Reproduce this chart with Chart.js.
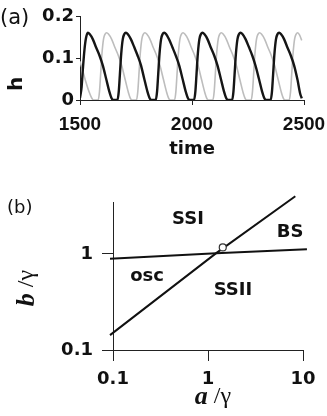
<!DOCTYPE html>
<html><head><meta charset="utf-8">
<script src="https://cdn.jsdelivr.net/npm/chart.js@4/dist/chart.umd.min.js"></script>
<style>
html,body{margin:0;padding:0;background:#fff;}
#wrap{position:relative;width:327px;height:416px;overflow:hidden;background:#fff;}
canvas{position:absolute;left:0;}
.pl{position:absolute;font:18px "DejaVu Sans";color:#111;line-height:20px;white-space:nowrap;}
</style></head><body>
<div id="wrap">
<canvas id="ca" width="327" height="165" style="top:0"></canvas>
<canvas id="cb" width="327" height="251" style="top:165px"></canvas>
<div class="pl" style="left:0px;top:6px;font-size:21px;line-height:22px">(a)</div>
<div class="pl" style="left:7px;top:197px">(b)</div>
</div>
<script>
// ---------- Panel (a): time series ----------
const blackT = [1500,1507,1513,1520,1527,1535,
 1543,1557,1572,1587,1602,1617,1631,1641,1649,1667,1673,1678,1684,1691,1698,1705,
 1713,1727,1742,1757,1772,1787,1801,1811,1819,1838,1844,1849,1855,1862,1869,1876,
 1884,1898,1913,1928,1943,1958,1972,1982,1990,2009,2015,2020,2026,2033,2040,2047,
 2055,2069,2084,2099,2114,2129,2143,2153,2161,2179,2185,2190,2196,2203,2210,2217,
 2225,2239,2254,2269,2284,2299,2313,2323,2331,2351,2357,2362,2368,2375,2382,2389,
 2397,2411,2426,2441,2456,2471,2483,2490];
const blackH = [0.005,0.03,0.075,0.12,0.148,0.16,
 0.157,0.145,0.125,0.106,0.082,0.05,0.02,0.004,0,0,0.02,0.06,0.11,0.145,0.157,0.16,
 0.157,0.145,0.126,0.106,0.083,0.05,0.02,0.004,0,0,0.02,0.06,0.11,0.145,0.157,0.16,
 0.157,0.144,0.125,0.105,0.082,0.05,0.02,0.004,0,0,0.02,0.06,0.11,0.145,0.157,0.16,
 0.157,0.145,0.125,0.106,0.082,0.05,0.02,0.004,0,0,0.02,0.06,0.11,0.145,0.157,0.16,
 0.157,0.145,0.126,0.106,0.081,0.05,0.02,0.004,0,0,0.02,0.06,0.11,0.145,0.157,0.16,
 0.157,0.145,0.125,0.106,0.082,0.048,0.015,0.004];
const grayT = [1500,1512,1525,1540,1552,1560,1581,1587,1592,1598,1605,1612,1619,
 1627,1641,1656,1671,1686,1701,1715,1725,1733,1752,1758,1763,1769,1776,1783,1790,
 1798,1812,1827,1842,1857,1872,1886,1896,1904,1922,1928,1933,1939,1946,1953,1960,
 1968,1982,1997,2012,2027,2042,2056,2066,2074,2093,2099,2104,2110,2117,2124,2131,
 2139,2153,2168,2183,2198,2213,2227,2237,2245,2264,2270,2275,2281,2288,2295,2302,
 2310,2324,2339,2354,2369,2384,2398,2408,2416,2434,2440,2445,2451,2458,2465,2472,
 2480,2490];
const grayH = [0.092,0.07,0.045,0.02,0.005,0,0,0.02,0.06,0.11,0.145,0.157,0.16,
 0.157,0.145,0.125,0.106,0.082,0.05,0.02,0.004,0,0,0.02,0.06,0.11,0.145,0.157,0.16,
 0.157,0.145,0.125,0.106,0.082,0.05,0.02,0.004,0,0,0.02,0.06,0.11,0.145,0.157,0.16,
 0.157,0.145,0.125,0.106,0.082,0.05,0.02,0.004,0,0,0.02,0.06,0.11,0.145,0.157,0.16,
 0.157,0.145,0.125,0.106,0.082,0.05,0.02,0.004,0,0,0.02,0.06,0.11,0.145,0.157,0.16,
 0.157,0.145,0.125,0.106,0.082,0.05,0.02,0.004,0,0,0.02,0.06,0.11,0.145,0.157,0.16,
 0.155,0.142];
const xTicksA = [1500, 2000, 2500];
const yTicksA = [0, 0.1, 0.2];
const xTitleA = 'time';
const yTitleA = 'h';

// ---------- Panel (b): phase diagram (log-log) ----------
const hLineA = [0.093, 1.22, 11];
const hLineB = [0.89, 1.02, 1.12];
const dLineA = [0.093, 1.22, 8.3];
const dLineB = [0.143, 1.02, 4.0];
const markA = [1.43];
const markB = [1.17];
const regionNames = ['SSI', 'BS', 'osc', 'SSII'];
const regionA = [0.616, 7.3, 0.228, 1.83];
const regionB = [2.31, 1.70, 0.59, 0.42];
const xTicksB = [0.1, 1, 10];
const yTicksB = [0.1, 1];

const toXY = (xs, ys) => xs.map((x, i) => ({x: x, y: ys[i]}));
const tickFont = {family: 'DejaVu Sans', size: 18, weight: 'bold'};
const xTickFontA = {family: 'Liberation Sans', size: 19, weight: 'bold'};
const INK = '#111';

function drawMixed(ctx, parts, cx, cy, rot) {
  ctx.save();
  ctx.translate(cx, cy);
  ctx.rotate(rot);
  ctx.textBaseline = 'middle';
  ctx.textAlign = 'left';
  let total = 0;
  const w = parts.map(p => { ctx.font = p.font; const m = ctx.measureText(p.text).width; total += m; return m; });
  let x = -total / 2;
  parts.forEach((p, i) => { ctx.font = p.font; ctx.fillStyle = INK; ctx.fillText(p.text, x, 0); x += w[i]; });
  ctx.restore();
}

const titlePluginA = {
  id: 'titleA',
  afterDraw(chart) {
    drawMixed(chart.ctx, [{text: yTitleA, font: 'bold 20px "DejaVu Sans"'}], 17, 84, -Math.PI / 2);
  }
};

new Chart(document.getElementById('ca'), {
  type: 'line',
  data: {
    datasets: [
      {data: toXY(blackT, blackH), borderColor: '#151515', borderWidth: 2.4, pointRadius: 0, cubicInterpolationMode: 'monotone', fill: false},
      {data: toXY(grayT, grayH), borderColor: '#bdbdbd', borderWidth: 1.6, pointRadius: 0, cubicInterpolationMode: 'monotone', fill: false}
    ]
  },
  options: {
    responsive: false, animation: false, devicePixelRatio: 1,
    layout: {padding: {left: 0, right: 23, top: 16, bottom: 0}},
    plugins: {legend: {display: false}, tooltip: {enabled: false}},
    scales: {
      x: {
        type: 'linear', min: 1500, max: 2500,
        afterBuildTicks: s => { s.ticks = xTicksA.map(v => ({value: v})); },
        afterFit: s => { s.height = 65; s.paddingLeft = 0; s.paddingRight = 0; },
        grid: {drawOnChartArea: false, drawTicks: true, tickLength: 5, color: '#222', lineWidth: 1},
        border: {display: true, color: '#222', width: 1},
        ticks: {font: xTickFontA, color: INK, padding: 8, maxRotation: 0, autoSkip: false, callback: v => String(v)},
        title: {display: true, text: xTitleA, font: tickFont, color: INK, padding: {top: 0, bottom: 5}}
      },
      y: {
        type: 'linear', min: 0, max: 0.2,
        afterBuildTicks: s => { s.ticks = yTicksA.map(v => ({value: v})); },
        afterFit: s => { s.width = 80; s.paddingTop = 0; s.paddingBottom = 0; },
        grid: {drawOnChartArea: false, drawTicks: true, tickLength: 4, color: '#222', lineWidth: 1},
        border: {display: true, color: '#222', width: 1},
        ticks: {font: tickFont, color: INK, padding: 2, autoSkip: false, callback: v => String(v)}
      }
    }
  },
  plugins: [titlePluginA]
});

const textPluginB = {
  id: 'textB',
  afterDraw(chart) {
    const ctx = chart.ctx, x = chart.scales.x, y = chart.scales.y;
    ctx.save();
    ctx.font = 'bold 18px "DejaVu Sans"';
    ctx.fillStyle = INK;
    ctx.textAlign = 'center';
    ctx.textBaseline = 'middle';
    regionNames.forEach((t, i) => ctx.fillText(t, x.getPixelForValue(regionA[i]), y.getPixelForValue(regionB[i])));
    ctx.restore();
    const it = 'italic bold 26px "Liberation Serif"';
    const nm = '24px "Liberation Serif"';
    drawMixed(ctx, [{text: 'a', font: it}, {text: ' /γ', font: nm}], 213, 232, 0);
    drawMixed(ctx, [{text: 'b', font: it}, {text: ' /γ', font: nm}], 27, 123, -Math.PI / 2);
  }
};

new Chart(document.getElementById('cb'), {
  type: 'line',
  data: {
    datasets: [
      {data: toXY(markA, markB), showLine: false, pointRadius: 3.5, pointBorderWidth: 1.2, pointBackgroundColor: '#fff', pointBorderColor: '#333', clip: false},
      {data: toXY(hLineA, hLineB), borderColor: '#111', borderWidth: 2, pointRadius: 0, tension: 0.3, clip: false},
      {data: toXY(dLineA, dLineB), borderColor: '#111', borderWidth: 2, pointRadius: 0, tension: 0, clip: false}
    ]
  },
  options: {
    responsive: false, animation: false, devicePixelRatio: 1,
    layout: {padding: {left: 0, right: 24, top: 37, bottom: 0}},
    plugins: {legend: {display: false}, tooltip: {enabled: false}},
    scales: {
      x: {
        type: 'logarithmic', min: 0.1, max: 10,
        afterBuildTicks: s => { s.ticks = xTicksB.map(v => ({value: v})); },
        afterFit: s => { s.height = 66; s.paddingLeft = 0; s.paddingRight = 0; },
        grid: {drawOnChartArea: false, drawTicks: true, tickLength: 11, color: '#222', lineWidth: 1},
        border: {display: true, color: '#222', width: 1},
        ticks: {font: tickFont, color: INK, padding: 8, maxRotation: 0, autoSkip: false, callback: v => String(v)}
      },
      y: {
        type: 'logarithmic', min: 0.1, max: 3.48,
        afterBuildTicks: s => { s.ticks = yTicksB.map(v => ({value: v})); },
        afterFit: s => { s.width = 113; s.paddingTop = 0; s.paddingBottom = 0; },
        grid: {drawOnChartArea: false, drawTicks: true, tickLength: 11, color: '#222', lineWidth: 1},
        border: {display: true, color: '#222', width: 1},
        ticks: {font: tickFont, color: INK, padding: 9, autoSkip: false, callback: v => String(v)}
      }
    }
  },
  plugins: [textPluginB]
});
</script>
</body></html>
